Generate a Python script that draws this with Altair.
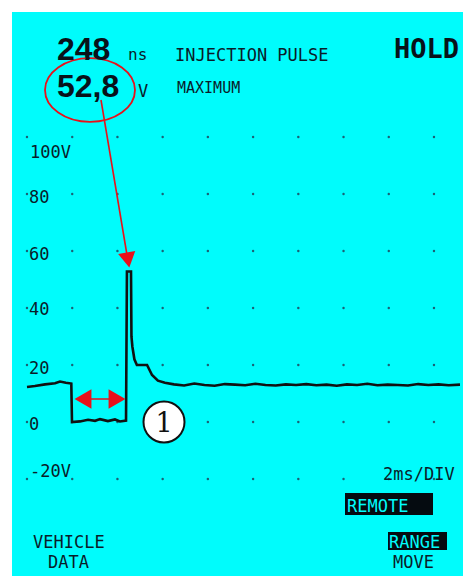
import altair as alt
import pandas as pd

# ---------------- data ----------------
# trace: time in ms, voltage in V
trace_t = [0.00, 0.35, 0.80, 1.24, 1.46, 1.72, 1.96, 1.99, 2.34, 2.70, 3.01, 3.23, 3.58, 3.89, 4.11, 4.38,
           4.42, 4.60, 4.62, 4.66, 4.75, 4.86, 5.31, 5.53, 5.79, 6.10,
           6.50, 6.95, 7.40, 7.85, 8.30, 8.75, 9.20, 9.65, 10.10, 10.55, 11.00, 11.45, 11.90, 12.35,
           12.80, 13.25, 13.70, 14.15, 14.60, 15.05, 15.50, 15.95, 16.40, 16.85, 17.30, 17.75, 18.20,
           18.65, 19.15]
trace_v = [12.3, 12.6, 13.2, 13.6, 14.2, 13.8, 13.5, 0.0, 0.2, 0.8, 0.4, 1.0, 0.3, 0.9, 0.2, 0.5,
           52.8, 52.8, 30.0, 26.5, 22.0, 20.0, 20.0, 16.5, 14.5, 13.8,
           13.2, 12.8, 13.5, 13.0, 12.7, 13.3, 13.1, 12.9, 13.4, 13.0, 12.8, 13.2, 13.0, 13.3,
           12.9, 13.1, 12.7, 13.2, 13.0, 13.4, 12.9, 13.1, 13.0, 12.8, 13.3, 13.0, 13.2,
           12.9, 13.1]

grid_cols_ms = [0, 2, 4, 6, 8, 10, 12, 14, 16, 18]
grid_rows_v = [-20, 0, 20, 40, 60, 80, 100]

axis_labels = ["100V", "80", "60", "40", "20", "0", "-20V"]
axis_label_px = [30, 29, 29, 29, 29, 29, 30]
axis_label_py = [158, 203, 260, 315, 374, 430, 477]

big_texts = ["248", "52,8"]
big_px = [57, 57]
big_py = [60, 97]

hold_text = ["HOLD"]
hold_px = [394]
hold_py = [58]

mono_texts = ["ns", "INJECTION PULSE", "V", "MAXIMUM", "2ms/DIV", "MOVE", "VEHICLE", "DATA"]
mono_px = [128, 175, 138, 177, 383, 393, 33, 48]
mono_py = [60, 61, 97, 93, 480, 568, 548, 568]
mono_size = [16, 17, 17, 15, 17, 17, 17, 17]

inv_texts = ["REMOTE", "RANGE"]
inv_px = [347, 389]
inv_py = [512, 548]

box_x1 = [345, 388]
box_x2 = [433, 447]
box_y1 = [493, 532]
box_y2 = [515, 550]

OFF = 12  # plot-area origin on the page
W, H = 451, 564
CYAN = "#00FCFC"
INK = "#0a1c2a"
RED = "#e8101a"

# 2 ms per 45.2 px division, 20 V per 57 px division
xs = alt.Scale(domain=[-0.663, 19.283], nice=False, zero=False)
ys = alt.Scale(domain=[-54.04, 143.86], nice=False, zero=False)

trace_df = pd.DataFrame({"t": trace_t, "v": trace_v, "i": range(len(trace_t))})
grid_df = pd.DataFrame([{"t": c, "v": r} for c in grid_cols_ms for r in grid_rows_v])


def px_df(texts, pxs, pys):
    return pd.DataFrame({"label": texts, "x": [p - OFF for p in pxs], "y": [p - OFF for p in pys]})


PX = dict(x=alt.X("x:Q", scale=None, axis=None), y=alt.Y("y:Q", scale=None, axis=None))

dots = alt.Chart(grid_df).mark_circle(size=6, color="#1d4f66", opacity=0.9).encode(
    x=alt.X("t:Q", scale=xs, axis=None),
    y=alt.Y("v:Q", scale=ys, axis=None),
)

line = alt.Chart(trace_df).mark_line(color="#111111", strokeWidth=2.6, strokeJoin="miter").encode(
    x=alt.X("t:Q", scale=xs, axis=None),
    y=alt.Y("v:Q", scale=ys, axis=None),
    order="i:Q",
)

boxes_df = pd.DataFrame({"x": [p - OFF for p in box_x1], "x2": [p - OFF for p in box_x2],
                         "y": [p - OFF for p in box_y1], "y2": [p - OFF for p in box_y2]})
boxes = alt.Chart(boxes_df).mark_rect(color="#050b10").encode(x2="x2:Q", y2="y2:Q", **PX)

# red annotations
ellipse = alt.Chart(pd.DataFrame({"x": [90 - OFF], "y": [90 - OFF]})).mark_point(
    shape="M -1 0 A 1 0.71 0 1 0 1 0 A 1 0.71 0 1 0 -1 0",
    size=90 * 90, filled=False, stroke=RED, strokeWidth=1.8, opacity=1,
).encode(**PX)

arrow_line_df = pd.DataFrame({"x": [101 - OFF], "x2": [127 - OFF], "y": [100 - OFF], "y2": [255 - OFF]})
arrow_line = alt.Chart(arrow_line_df).mark_rule(color=RED, strokeWidth=1.6).encode(x2="x2:Q", y2="y2:Q", **PX)
arrow_head = alt.Chart(pd.DataFrame({"x": [128 - OFF], "y": [260 - OFF]})).mark_point(
    shape="triangle-down", size=300, filled=True, color=RED, opacity=1, angle=350,
).encode(**PX)

dbl_line_df = pd.DataFrame({"x": [80 - OFF], "x2": [120 - OFF], "y": [399 - OFF]})
dbl_line = alt.Chart(dbl_line_df).mark_rule(color=RED, strokeWidth=1.4).encode(x2="x2:Q", **PX)
dbl_heads_df = pd.DataFrame({"x": [83 - OFF, 117 - OFF], "y": [399 - OFF, 399 - OFF],
                             "shape": ["triangle-left", "triangle-right"]})
dbl_heads = alt.Chart(dbl_heads_df).mark_point(size=380, filled=True, color=RED, opacity=1).encode(
    shape=alt.Shape("shape:N", scale=None, legend=None), **PX
)

circle1 = alt.Chart(pd.DataFrame({"x": [164 - OFF], "y": [422 - OFF]})).mark_point(
    shape="circle", size=41 * 41, filled=True, fill="white", stroke="#111111", strokeWidth=2, opacity=1,
).encode(**PX)
circle1_txt = alt.Chart(pd.DataFrame({"x": [164 - OFF], "y": [432 - OFF], "label": ["1"]})).mark_text(
    font="DejaVu Serif", fontSize=27, color="#111111", align="center", baseline="alphabetic",
).encode(text="label:N", **PX)

big = alt.Chart(px_df(big_texts, big_px, big_py)).mark_text(
    font="Liberation Sans", fontWeight="bold", fontSize=32, color="#08121a", align="left",
    baseline="alphabetic",
).encode(text="label:N", **PX)

hold = alt.Chart(px_df(hold_text, hold_px, hold_py)).mark_text(
    font="DejaVu Sans Mono", fontWeight="bold", fontSize=27, color="#08121a", align="left",
    baseline="alphabetic",
).encode(text="label:N", **PX)

mono_df = px_df(mono_texts + axis_labels, mono_px + axis_label_px, mono_py + axis_label_py)
mono_df["s"] = mono_size + [17] * len(axis_labels)
mono = alt.Chart(mono_df).mark_text(
    font="DejaVu Sans Mono", color=INK, align="left", baseline="alphabetic",
).encode(text="label:N", size=alt.Size("s:Q", scale=None, legend=None), **PX)

inv = alt.Chart(px_df(inv_texts, inv_px, inv_py)).mark_text(
    font="DejaVu Sans Mono", fontSize=17, color=CYAN, align="left", baseline="alphabetic",
).encode(text="label:N", **PX)

chart = alt.layer(
    dots, boxes, line, ellipse, arrow_line, arrow_head, dbl_line, dbl_heads,
    circle1, circle1_txt, big, hold, mono, inv,
).resolve_scale(x="independent", y="independent", size="independent", shape="independent").properties(
    width=W, height=H,
    autosize=alt.AutoSizeParams(type="none"),
    padding={"left": 4, "top": 4, "right": 0, "bottom": 0},
    background="white",
).configure_view(fill=CYAN, stroke=None)

chart.save("out.html", embed_options={"renderer": "svg", "actions": False})
